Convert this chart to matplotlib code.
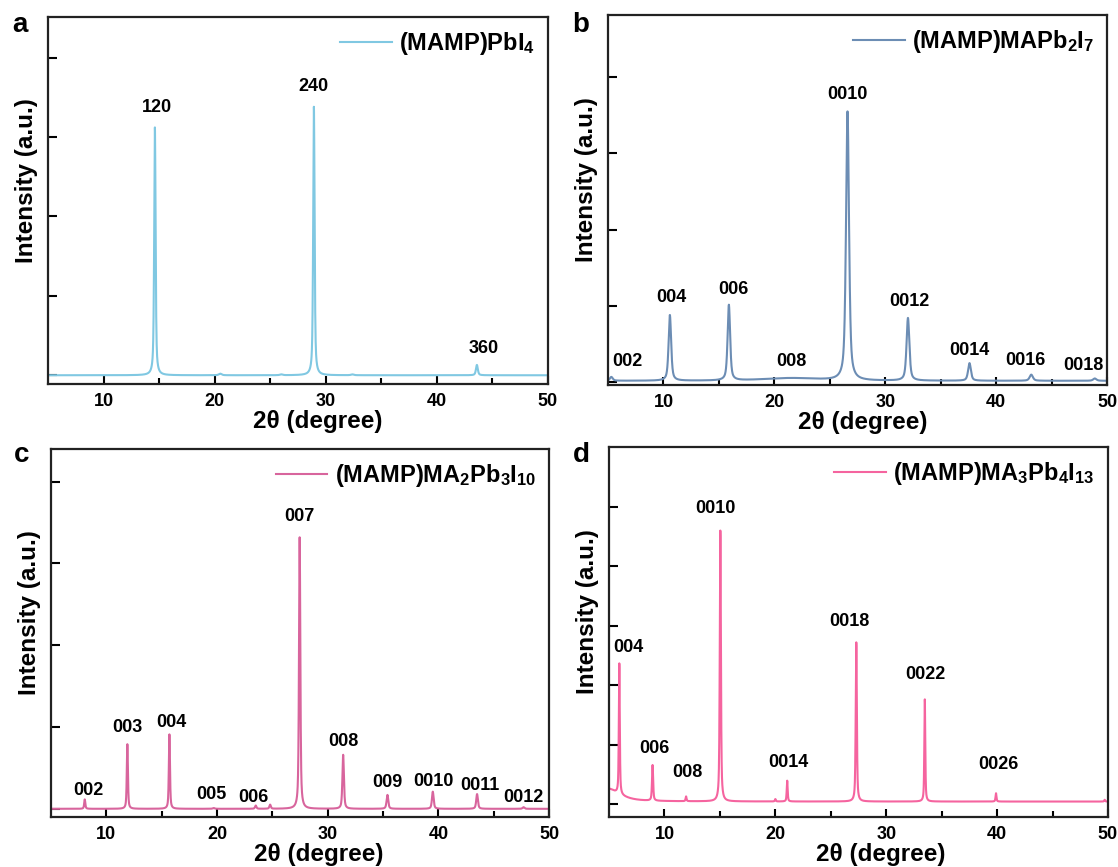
import numpy as np
import matplotlib
matplotlib.use('Agg')
from matplotlib import pyplot as plt

plt.rcParams['font.family'] = ['Liberation Sans', 'DejaVu Sans']
plt.rcParams['font.weight'] = 'bold'
plt.rcParams['axes.labelweight'] = 'bold'
plt.rcParams['mathtext.fontset'] = 'custom'
plt.rcParams['mathtext.rm'] = 'Liberation Sans:bold'
plt.rcParams['mathtext.default'] = 'rm'

# peak tables: 2theta position, height above baseline, FWHM
a_pos = [14.62, 20.5, 26.0, 28.93, 32.4, 43.6]
a_hgt = [3.12, 0.02, 0.01, 3.38, 0.01, 0.13]
a_fwhm = [0.15, 0.3, 0.3, 0.15, 0.3, 0.2]
a_base = 0.0

b_pos = [5.3, 10.58, 15.9, 21.5, 26.6, 32.05, 37.6, 43.17, 48.9]
b_hgt = [0.05, 0.86, 0.99, 0.035, 3.52, 0.82, 0.23, 0.08, 0.03]
b_fwhm = [0.3, 0.27, 0.27, 6.0, 0.32, 0.3, 0.3, 0.35, 0.35]
b_base = 0.02

c_pos = [8.05, 11.9, 15.7, 19.7, 23.5, 24.8, 27.47, 31.4, 35.4, 39.5, 43.5, 47.7]
c_hgt = [0.115, 0.79, 0.91, 0.01, 0.04, 0.05, 3.32, 0.66, 0.17, 0.21, 0.18, 0.02]
c_fwhm = [0.12, 0.12, 0.12, 0.2, 0.15, 0.15, 0.14, 0.16, 0.18, 0.18, 0.18, 0.2]
c_base = 0.0

d_pos = [4.5, 5.93, 8.93, 11.95, 15.04, 20.0, 21.07, 27.3, 33.48, 39.9, 49.7]
d_hgt = [0.24, 2.2, 0.6, 0.08, 4.56, 0.04, 0.35, 2.68, 1.72, 0.14, 0.03]
d_fwhm = [3.0, 0.1, 0.12, 0.1, 0.12, 0.1, 0.1, 0.12, 0.1, 0.1, 0.1]
d_base = 0.04

# peak index labels (text, x, y)
a_lab = ['120', '240', '360']
a_lx = [14.8, 28.9, 44.2]
a_ly = [3.37, 3.63, 0.34]

b_lab = ['002', '004', '006', '008', '0010', '0012', '0014', '0016', '0018']
b_lx = [6.76, 10.75, 16.32, 21.58, 26.58, 32.22, 37.6, 42.66, 47.9]
b_ly = [0.27, 1.11, 1.22, 0.27, 3.77, 1.06, 0.42, 0.28, 0.22]

c_lab = ['002', '003', '004', '005', '006', '007', '008', '009', '0010', '0011', '0012']
c_lx = [8.37, 11.88, 15.85, 19.53, 23.33, 27.46, 31.46, 35.43, 39.53, 43.72, 47.66]
c_ly = [0.23, 1.0, 1.05, 0.18, 0.135, 3.58, 0.82, 0.32, 0.34, 0.29, 0.135]

d_lab = ['004', '006', '008', '0010', '0014', '0018', '0022', '0026']
d_lx = [6.75, 9.09, 12.05, 14.62, 21.15, 26.65, 33.5, 40.08]
d_ly = [2.64, 0.94, 0.53, 4.97, 0.69, 3.08, 2.18, 0.66]

names = [r'(MAMP)PbI$_4$', r'(MAMP)MAPb$_2$I$_7$',
         r'(MAMP)MA$_2$Pb$_3$I$_{10}$', r'(MAMP)MA$_3$Pb$_4$I$_{13}$']
colors = ['#80C8E2', '#6C8DB4', '#D8659D', '#F5649F']
letters = ['a', 'b', 'c', 'd']

x = np.arange(5, 50.0001, 0.01)


def pattern(pos, hgt, fwhm, base):
    y = np.full_like(x, base)
    for p, h, w in zip(pos, hgt, fwhm):
        g = w / 2
        lor = g**2 / ((x - p)**2 + g**2)
        gau = np.exp(-np.log(2) * ((x - p) / g)**2)
        y += h * (0.6 * lor + 0.4 * gau)
    return y


W, H = 1118, 867
fig = plt.figure(figsize=(W / 100, H / 100), dpi=100)

# axes boxes in pixels: left, top, right, bottom
boxes = [(48, 17, 548, 384), (608, 15, 1107, 385),
         (51, 449, 549, 817), (609, 447, 1108, 817)]
ylims = [(-0.11, 4.51), (-0.035, 4.81), (-0.10, 4.40), (-0.22, 6.01)]
yticks = [range(0, 5), range(0, 5), range(0, 5), range(0, 6)]
letter_pos = [(12, 32), (572, 32), (14, 462), (573, 462)]
xlab_x = [0.54, 0.51, 0.537, 0.544]

data = [(a_pos, a_hgt, a_fwhm, a_base, a_lab, a_lx, a_ly),
        (b_pos, b_hgt, b_fwhm, b_base, b_lab, b_lx, b_ly),
        (c_pos, c_hgt, c_fwhm, c_base, c_lab, c_lx, c_ly),
        (d_pos, d_hgt, d_fwhm, d_base, d_lab, d_lx, d_ly)]

for i, (pos, hgt, fwhm, base, lab, lx, ly) in enumerate(data):
    l, t, r, b = boxes[i]
    ax = fig.add_axes([l / W, 1 - b / H, (r - l) / W, (b - t) / H])
    ax.plot(x, pattern(pos, hgt, fwhm, base), color=colors[i], lw=1.5, label=names[i])
    for s, tx, ty in zip(lab, lx, ly):
        ax.text(tx, ty, s, ha='center', va='center', fontsize=13, fontweight='bold')
    ax.set_xlim(5, 50)
    ax.set_ylim(*ylims[i])
    ax.set_xticks([10, 20, 30, 40, 50])
    ax.set_xticks([15, 25, 35, 45], minor=True)
    ax.set_yticks(list(yticks[i]))
    ax.set_yticklabels([])
    ax.tick_params(axis='both', which='both', direction='in', width=1.5,
                   top=False, right=False, labelsize=13, pad=6.5)
    ax.tick_params(axis='x', which='major', length=5.5)
    ax.tick_params(axis='x', which='minor', length=4)
    ax.tick_params(axis='y', which='major', length=6.5)
    for sp in ax.spines.values():
        sp.set_linewidth(1.6)
        sp.set_color('#222222')
    ax.set_xlabel('2θ (degree)', fontsize=17.5)
    ax.set_ylabel('Intensity (a.u.)', fontsize=17.5)
    ax.xaxis.set_label_coords(xlab_x[i], -0.07)
    ax.yaxis.set_label_coords(-0.02, 0.555)
    ax.legend(loc='upper right', frameon=False, fontsize=17, handlelength=2.2,
              handletextpad=0.3, borderpad=0.2, borderaxespad=0.35)
    fig.text(letter_pos[i][0] / W, 1 - letter_pos[i][1] / H, letters[i],
             fontsize=20, fontweight='bold', ha='left', va='baseline')

fig.savefig('out.png', dpi=100)
